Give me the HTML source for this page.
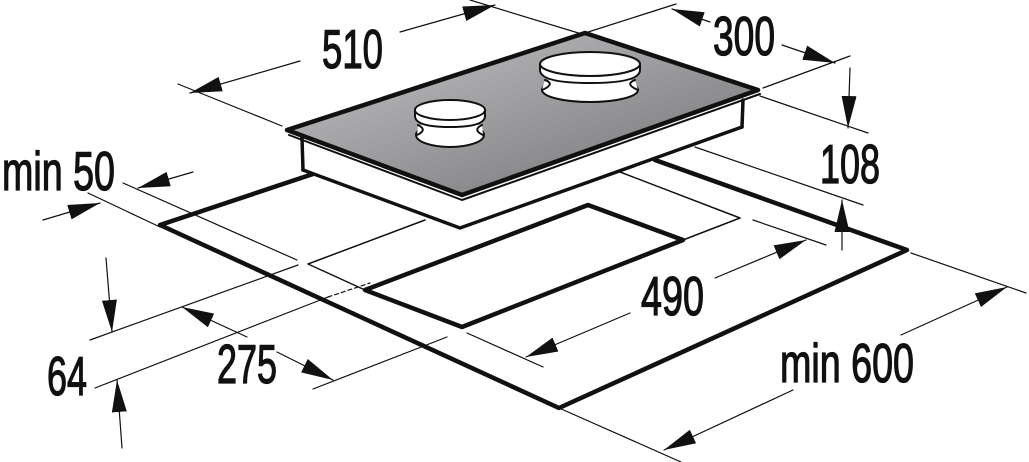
<!DOCTYPE html>
<html><head><meta charset="utf-8"><style>
html,body{margin:0;padding:0;background:#fff;}
svg{display:block;}
text{font-family:"Liberation Sans",sans-serif;font-size:55px;fill:#111;stroke:#111;stroke-width:1.3px;}
</style></head><body>
<svg width="1029" height="462" viewBox="0 0 1029 462" xmlns="http://www.w3.org/2000/svg">
<defs>
<marker id="a" markerUnits="userSpaceOnUse" markerWidth="34" markerHeight="16" refX="32" refY="8" orient="auto">
<path d="M0,0.5 L32,8 L0,15.5 z" fill="#111"/>
</marker>
<linearGradient id="g" x1="0" y1="0" x2="1" y2="1">
<stop offset="0" stop-color="#c4c5c7"/><stop offset="1" stop-color="#707072"/>
</linearGradient>
</defs>
<g stroke="#111" fill="none" stroke-linecap="round" stroke-linejoin="round">
<path d="M313,174 L160,225 L559,408 L907,250 L655,160" stroke-width="4.5"/>
<path d="M425,220 L308,264 L365,290 M620,172 L740,218 L683,240" stroke-width="1.5"/>
<path d="M588,205 L365,290 L462,327 L683,240 Z" stroke-width="4.5"/>
<path d="M302,138 L303,170 L460,228 L742,127 L743,105 L600,40 Z" fill="#fff" stroke="none"/>
<path d="M303,170 L460,228 L742,127" stroke-width="3.5"/>
<line x1="302" y1="138" x2="303" y2="170" stroke-width="3.5"/>
<line x1="743" y1="100" x2="742" y2="127" stroke-width="3.5"/>
<path d="M289,135 L462,200 L760,94" stroke-width="2"/>
<path d="M287,130 L585,33 L758,90 L462,195 Z" fill="url(#g)" stroke-width="4.5"/>
<!-- small burner -->
<g stroke-width="2" fill="#fff">
<ellipse cx="450" cy="135" rx="34" ry="12"/>
<path d="M418,125 Q428,130 417,135 L483,135 Q472,130 482,125 Z" stroke="none"/>
<path d="M418,125 Q428,130 417,135 M482,125 Q472,130 483,135"/>
<path d="M415,110 A35,10 0 0 1 485,110 L485,116 Q485,127 450,127 Q415,127 415,116 Z"/>
<path d="M415,110 A35,10 0 0 0 485,110"/>
<!-- big burner -->
<ellipse cx="590" cy="90" rx="48" ry="12"/>
<path d="M545,80 Q556,84 542,90 L638,90 Q624,84 635,80 Z" stroke="none"/>
<path d="M545,80 Q556,84 542,90 M635,80 Q624,84 638,90"/>
<path d="M540,64 A50,12 0 0 1 640,64 L640,70 Q640,83 590,83 Q540,83 540,70 Z"/>
<path d="M540,64 A50,12 0 0 0 640,64"/>
</g>
<g stroke-width="1.2">
<line x1="178" y1="84" x2="282" y2="126"/>
<line x1="470" y1="0" x2="585" y2="35"/>
<line x1="585" y1="33" x2="676" y2="4"/>
<line x1="763" y1="88" x2="850" y2="56"/>
<line x1="760" y1="96" x2="868" y2="133"/>
<line x1="695" y1="147" x2="863" y2="205"/>
<line x1="123" y1="183" x2="297" y2="260"/>
<line x1="88" y1="193" x2="160" y2="227"/>
<line x1="90" y1="340" x2="298" y2="265"/>
<line x1="95" y1="388" x2="328" y2="297"/>
<line x1="328" y1="297" x2="370" y2="283" stroke-dasharray="4,3"/>
<line x1="313" y1="389" x2="447" y2="337"/>
<line x1="467" y1="333" x2="543" y2="367"/>
<line x1="753" y1="220" x2="826" y2="245"/>
<line x1="559" y1="408" x2="681" y2="462"/>
<line x1="911" y1="253" x2="1026" y2="293"/>
</g>
<g stroke-width="1.2" marker-end="url(#a)">
<line x1="300" y1="61" x2="190" y2="93"/>
<line x1="400" y1="32" x2="495" y2="5"/>
<line x1="710" y1="22" x2="672" y2="9"/>
<line x1="782" y1="45" x2="835" y2="63"/>
<line x1="850" y1="68" x2="848" y2="128"/>
<line x1="842" y1="250" x2="842" y2="200"/>
<line x1="193" y1="172" x2="138" y2="188"/>
<line x1="43" y1="220" x2="100" y2="203"/>
<line x1="106" y1="258" x2="112" y2="332"/>
<line x1="122" y1="448" x2="117" y2="380"/>
<line x1="247" y1="337" x2="182" y2="307"/>
<line x1="277" y1="352" x2="333" y2="380"/>
<line x1="630" y1="313" x2="526" y2="357"/>
<line x1="715" y1="278" x2="806" y2="240"/>
<line x1="793" y1="390" x2="664" y2="450"/>
<line x1="901" y1="335" x2="1007" y2="287"/>
</g>
</g>
<text x="322" y="68" textLength="61" lengthAdjust="spacingAndGlyphs">510</text>
<text x="713" y="55" textLength="62" lengthAdjust="spacingAndGlyphs">300</text>
<text x="820" y="183" textLength="60" lengthAdjust="spacingAndGlyphs">108</text>
<text x="2" y="190" textLength="113" lengthAdjust="spacingAndGlyphs">min 50</text>
<text x="47" y="395" textLength="40" lengthAdjust="spacingAndGlyphs">64</text>
<text x="217" y="383" textLength="60" lengthAdjust="spacingAndGlyphs">275</text>
<text x="641" y="315" textLength="63" lengthAdjust="spacingAndGlyphs">490</text>
<text x="780" y="382" textLength="134" lengthAdjust="spacingAndGlyphs">min 600</text>
</svg>
</body></html>
